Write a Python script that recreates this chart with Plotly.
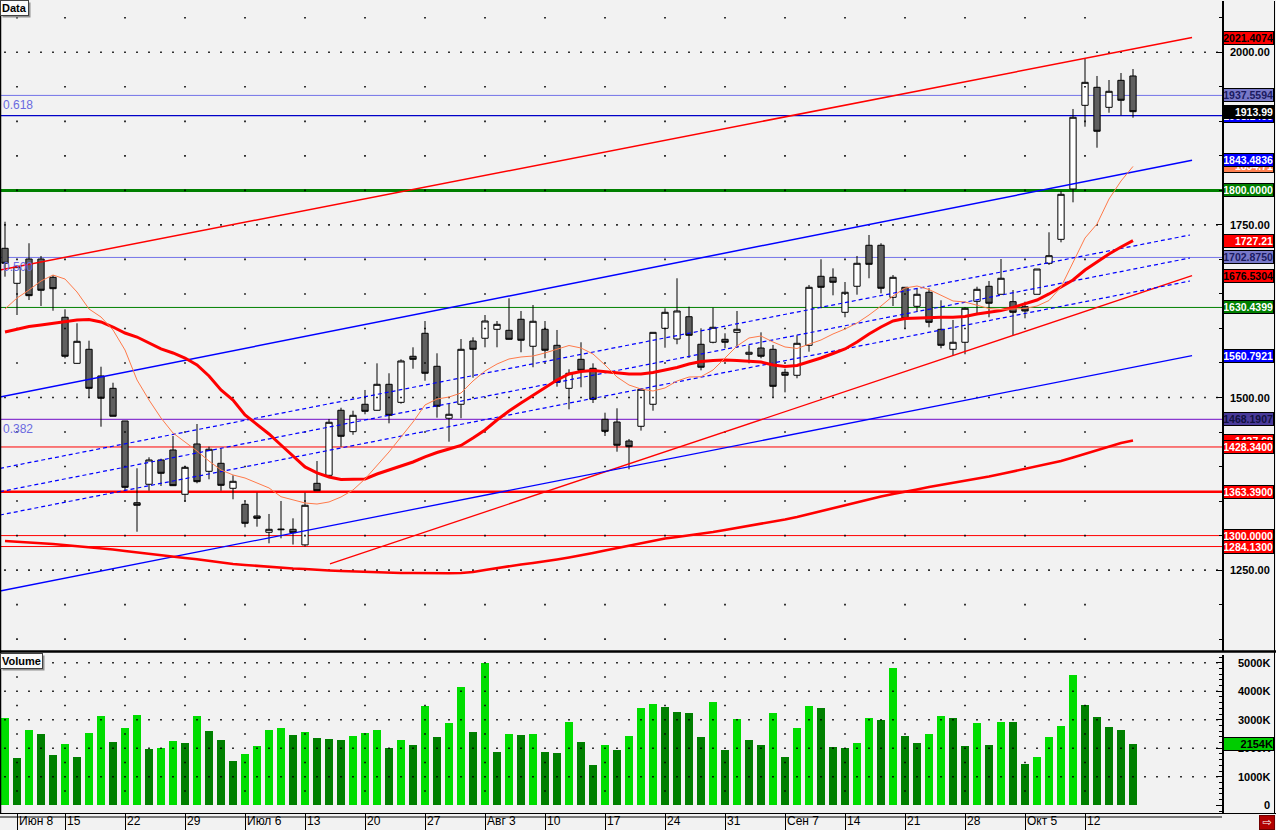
import plotly.graph_objects as go

# ---------------- data ----------------
tick_idx = [1, 5, 10, 15, 20, 25, 30, 35, 40, 45, 50, 55, 60, 65, 70, 75, 80, 85, 90]
tick_text = ["Июн 8", "15", "22", "29", "Июл 6", "13", "20", "27", "Авг 3", "10", "17",
             "24", "31", "Сен 7", "14", "21", "28", "Окт 5", "12"]

open_ = [1716.1, 1665.4, 1700.6, 1700.6, 1674.1, 1616.2, 1549.5, 1569.8, 1531.2, 1513.3,
         1466.0, 1347.6, 1374.3, 1409.5, 1424.0, 1359.8, 1432.7, 1393.1, 1404.7, 1368.5,
         1345.3, 1328.4, 1304.8, 1308.4, 1309.1, 1286.5, 1375.7, 1387.3, 1481.5, 1450.5,
         1490.2, 1481.5, 1519.1, 1493.0, 1559.7, 1593.0, 1545.2, 1469.9, 1490.2, 1581.8,
         1585.8, 1598.8, 1597.3, 1613.3, 1574.2, 1598.8, 1575.6, 1513.3, 1555.3, 1542.3,
         1468.4, 1464.5, 1437.0, 1458.3, 1490.2, 1600.2, 1584.7, 1617.0, 1577.1, 1580.0,
         1584.3, 1594.4, 1562.6, 1571.7, 1569.8, 1536.5, 1532.2, 1575.6, 1675.6, 1674.1,
         1623.4, 1661.1, 1720.5, 1720.5, 1645.1, 1659.6, 1632.1, 1652.4, 1598.8, 1569.8,
         1580.0, 1639.3, 1661.1, 1649.5, 1638.8, 1631.5, 1649.5, 1694.4, 1729.1, 1802.0,
         1923.2, 1949.3, 1920.3, 1959.4, 1965.7]
high = [1754.6, 1690.5, 1723.4, 1705.0, 1677.4, 1627.8, 1607.5, 1582.3, 1544.6, 1521.4,
        1466.0, 1397.5, 1413.4, 1411.4, 1444.2, 1399.8, 1461.6, 1428.8, 1426.4, 1387.3,
        1349.1, 1362.1, 1331.3, 1350.1, 1325.0, 1362.1, 1408.0, 1468.9, 1485.2, 1480.9,
        1510.9, 1549.5, 1535.1, 1555.3, 1572.7, 1610.8, 1564.0, 1491.6, 1584.7, 1587.2,
        1619.5, 1610.8, 1643.7, 1625.3, 1634.0, 1610.8, 1597.8, 1540.9, 1580.0, 1549.5,
        1478.0, 1484.4, 1439.9, 1513.0, 1594.4, 1629.2, 1672.7, 1631.5, 1600.2, 1630.1,
        1593.0, 1625.3, 1575.6, 1594.4, 1576.1, 1541.7, 1590.1, 1663.0, 1700.2, 1687.1,
        1667.3, 1705.0, 1735.4, 1723.4, 1677.4, 1659.6, 1658.2, 1658.2, 1640.8, 1612.3,
        1630.7, 1660.5, 1668.7, 1700.6, 1655.7, 1638.8, 1686.1, 1739.3, 1799.0, 1917.9,
        1990.3, 1965.7, 1959.9, 1970.0, 1975.8]
low = [1675.0, 1619.5, 1641.2, 1632.5, 1625.7, 1556.8, 1549.0, 1500.3, 1457.7, 1472.8,
       1365.0, 1305.6, 1365.0, 1371.8, 1372.0, 1349.1, 1375.7, 1381.5, 1365.0, 1352.6,
       1312.0, 1312.9, 1288.8, 1296.0, 1287.0, 1284.13, 1365.0, 1387.0, 1428.8, 1446.0,
       1475.7, 1481.0, 1462.6, 1491.0, 1541.7, 1524.3, 1470.8, 1436.0, 1469.9, 1528.7,
       1572.7, 1572.7, 1584.0, 1565.5, 1543.8, 1556.8, 1515.7, 1482.9, 1514.8, 1492.0,
       1444.2, 1421.5, 1396.0, 1452.0, 1480.9, 1572.1, 1577.1, 1557.2, 1539.4, 1578.5,
       1571.3, 1572.1, 1549.5, 1556.8, 1500.3, 1507.5, 1527.8, 1566.4, 1629.2, 1648.0,
       1616.2, 1648.9, 1672.7, 1650.9, 1632.5, 1600.2, 1623.8, 1601.7, 1571.3, 1560.1,
       1562.6, 1620.5, 1616.2, 1649.5, 1589.5, 1614.7, 1649.5, 1692.0, 1724.8, 1782.7,
       1892.2, 1861.8, 1912.5, 1908.8, 1905.3]
close = [1694.4, 1689.5, 1647.5, 1655.3, 1657.6, 1559.7, 1581.4, 1513.3, 1498.9, 1472.8,
         1369.9, 1343.9, 1409.5, 1390.2, 1372.3, 1398.9, 1378.1, 1425.0, 1372.8, 1378.6,
         1317.8, 1325.0, 1309.1, 1309.2, 1304.2, 1343.9, 1365.0, 1464.1, 1443.8, 1474.2,
         1480.0, 1519.1, 1474.2, 1552.9, 1555.3, 1535.1, 1487.3, 1475.7, 1569.8, 1569.8,
         1610.8, 1606.0, 1584.3, 1582.9, 1610.4, 1568.4, 1522.0, 1535.1, 1539.4, 1497.4,
         1451.0, 1430.8, 1428.8, 1511.9, 1594.4, 1623.4, 1625.3, 1590.1, 1543.8, 1601.7,
         1580.0, 1598.8, 1565.5, 1559.7, 1516.2, 1532.2, 1578.5, 1659.6, 1659.6, 1666.9,
         1652.4, 1694.4, 1692.9, 1658.2, 1674.1, 1614.1, 1649.5, 1608.9, 1575.6, 1580.0,
         1629.2, 1656.7, 1636.5, 1672.7, 1623.4, 1625.3, 1686.1, 1705.4, 1794.3, 1905.9,
         1956.5, 1885.6, 1943.5, 1930.5, 1913.99]

volume_k = [3061, 1658, 2640, 2500, 1764, 2149, 1693, 2535, 3131, 2219,
            2710, 3166, 1974, 2019, 2254, 2184, 3131, 2605, 2289, 1553,
            1799, 2079, 2640, 2710, 2465, 2570, 2360, 2330, 2289, 2430,
            2535, 2640, 2009, 2289, 2114, 3480, 2395, 2886, 4148, 2570,
            4994, 1869, 2500, 2465, 2500, 1869, 1840, 2921, 2219, 1413,
            2114, 1939, 2430, 3411, 3551, 3446, 3271, 3236, 2395, 3622,
            1939, 3026, 2289, 2114, 3236, 1693, 2710, 3481, 3411, 2044,
            2009, 2184, 3061, 2991, 4812, 2430, 2184, 2500, 3131, 3061,
            2079, 2886, 2114, 2921, 2921, 1448, 1693, 2395, 2780, 4568,
            3516, 3096, 2745, 2640, 2154]

sma10 = [1628.2, 1644.1, 1655.7, 1668.7, 1677.4, 1671.6, 1652.8, 1628.2, 1616.6, 1597.8,
         1568.8, 1525.4, 1496.4, 1470.3, 1448.6, 1435.5, 1422.5, 1408.0, 1395.0, 1387.8,
         1383.4, 1376.2, 1369.0, 1356.3, 1351.6, 1347.2, 1345.7, 1348.7, 1355.9, 1366.0,
         1382.0, 1400.8, 1421.1, 1442.8, 1464.5, 1489.2, 1497.8, 1500.7, 1506.5, 1523.9,
         1538.4, 1548.5, 1555.8, 1558.7, 1560.1, 1564.5, 1570.3, 1575.3, 1571.7, 1563.0,
         1547.1, 1529.7, 1518.1, 1512.3, 1509.4, 1513.8, 1523.9, 1529.7, 1530.1, 1539.8,
         1557.2, 1574.6, 1586.2, 1589.1, 1580.4, 1573.2, 1571.0, 1577.5, 1583.3, 1592.0,
         1599.2, 1607.9, 1619.5, 1632.5, 1647.0, 1658.6, 1661.5, 1656.4, 1648.5, 1639.8,
         1638.3, 1634.0, 1628.9, 1627.5, 1627.8, 1628.9, 1632.5, 1640.5, 1660.1, 1696.3,
         1731.0, 1751.3, 1787.5, 1813.6, 1834.71]

sma20 = [1594.9, 1599.2, 1602.9, 1605.0, 1607.2, 1609.4, 1612.3, 1613.0, 1609.4, 1602.1,
         1593.4, 1587.6, 1578.9, 1570.3, 1564.5, 1557.2, 1547.1, 1531.2, 1510.9, 1496.4,
         1474.7, 1461.6, 1447.2, 1431.2, 1415.3, 1399.4, 1390.7, 1384.9, 1381.2, 1381.2,
         1382.0, 1389.2, 1395.0, 1400.8, 1406.6, 1413.9, 1420.3, 1425.4, 1430.5, 1441.4,
         1452.9, 1467.4, 1480.5, 1492.1, 1503.6, 1515.2, 1525.4, 1534.1, 1537.7, 1539.1,
         1537.7, 1535.5, 1534.1, 1534.1, 1536.2, 1539.8, 1543.5, 1548.5, 1552.2, 1553.6,
         1554.3, 1553.6, 1552.9, 1551.4, 1547.1, 1544.9, 1546.4, 1551.4, 1557.2, 1563.7,
         1570.3, 1580.4, 1592.0, 1602.1, 1610.8, 1614.4, 1615.2, 1615.9, 1616.2, 1616.2,
         1617.3, 1621.0, 1623.1, 1626.0, 1630.4, 1635.4, 1641.2, 1650.0, 1660.1, 1670.2,
         1684.7, 1696.3, 1707.9, 1718.0, 1727.21]

sma_long = [1292.2, 1290.7, 1290.0, 1288.8, 1287.8, 1286.4, 1284.9, 1283.5, 1281.6, 1279.8,
            1277.7, 1275.5, 1273.3, 1271.2, 1269.0, 1267.5, 1265.7, 1263.2, 1261.0, 1258.9,
            1257.4, 1256.0, 1254.5, 1253.8, 1252.3, 1251.6, 1250.2, 1249.4, 1248.7, 1248.0,
            1247.3, 1246.5, 1245.8, 1245.8, 1245.8, 1245.4, 1245.4, 1245.4, 1245.8, 1247.3,
            1250.2, 1253.1, 1256.0, 1258.1, 1260.3, 1262.5, 1265.4, 1268.3, 1271.2, 1274.8,
            1278.4, 1282.0, 1284.9, 1289.3, 1292.9, 1295.8, 1297.9, 1300.1, 1303.0, 1305.2,
            1308.1, 1311.0, 1313.9, 1316.8, 1319.7, 1323.3, 1326.9, 1331.3, 1335.6, 1339.9,
            1344.3, 1348.7, 1353.0, 1356.6, 1360.2, 1363.1, 1366.8, 1370.4, 1373.3, 1376.9,
            1379.8, 1382.7, 1385.6, 1389.2, 1392.8, 1396.5, 1400.1, 1403.7, 1408.0, 1413.1,
            1418.1, 1424.0, 1429.0, 1434.1, 1437.68]

# trend lines: (x0 index, price0, x1 index, price1)
red_upper = [-0.4167, 1684.7, 98.92, 2021.4074]
red_lower = [27.08, 1259.1, 98.92, 1676.5304]
blue_upper = [-0.4167, 1500.7, 98.92, 1843.4836]
blue_lower = [-0.4167, 1219.7, 98.92, 1560.7921]
chan_top = [-0.4167, 1397.4, 98.75, 1735.4]
chan_mid = [-0.4167, 1363.6, 98.75, 1702.05]
chan_bot = [-0.4167, 1329.8, 98.75, 1668.7]

# horizontal levels: value, colour, width
h_levels = [(1937.5594, "#7474e8", 1), (1908.1495, "#0000c8", 1.2), (1800.0, "#008000", 3),
            (1702.875, "#7474e8", 1), (1630.4399, "#008000", 1), (1468.1907, "#8a3ad0", 1.2),
            (1428.34, "#ff0000", 1), (1363.39, "#ff0000", 2.5), (1300.0, "#ff0000", 1),
            (1284.13, "#ff0000", 1)]
fib_labels = [(1937.5594, "0.618"), (1702.875, "0.500"), (1468.1907, "0.382")]

price_axis_vals = [1250, 1500, 1750, 2000]
vol_axis_vals = [0, 1000, 2000, 3000, 4000, 5000]

# right-hand value boxes: value, text, background, text colour (later ones on top)
price_boxes = [(2021.4074, "2021.4074", "#ff0000", "#000000"),
               (1937.5594, "1937.5594", "#7878c8", "#1a1a60"),
               (1908.1495, "1908.1495", "#0000ff", "#ffffff"),
               (1913.99, "1913.99", "#000000", "#ffffff"),
               (1834.71, "1834.71", "#ff8050", "#ffffff"),
               (1843.4836, "1843.4836", "#0000ff", "#ffffff"),
               (1800.0, "1800.0000", "#008000", "#ffffff"),
               (1727.21, "1727.21", "#ff0000", "#ffffff"),
               (1702.875, "1702.8750", "#7878c8", "#1a1a60"),
               (1676.5304, "1676.5304", "#ff0000", "#000000"),
               (1630.4399, "1630.4399", "#008000", "#ffffff"),
               (1560.7921, "1560.7921", "#0000ff", "#ffffff"),
               (1468.1907, "1468.1907", "#4a3a9a", "#101040"),
               (1437.68, "1437.68", "#ff0000", "#ffffff"),
               (1428.34, "1428.3400", "#ff0000", "#ffffff"),
               (1363.39, "1363.3900", "#ff0000", "#ffffff"),
               (1300.0, "1300.0000", "#ff0000", "#ffffff"),
               (1284.13, "1284.1300", "#ff0000", "#ffffff")]

# ---------------- layout geometry ----------------
W, H = 1276, 830
ML, MR, MT, MB = 0, 54, 1, 17
PW = W - ML - MR
PH = H - MT - MB
BAR_PX = 12.0
X0 = -5.0 / BAR_PX
X1 = X0 + PW / BAR_PX


def ypaper(py):
    return (MT + PH - py) / PH


price_dom = [ypaper(651), 1.0]
vol_dom = [0.0, ypaper(655)]
PX_PER_UNIT = 0.6904
price_top = 2000 + (52.3 - MT) / PX_PER_UNIT
price_bot = price_top - (651 - MT) / PX_PER_UNIT
VOL_PX = 28.52 / 1000.0
vol_top = (805.3 - 655) / VOL_PX
vol_bot = (805.3 - 813) / VOL_PX

N = len(close)
xs = list(range(N))
FONT = "Liberation Sans, Arial, sans-serif"

fig = go.Figure()

# dotted grid (price panel)
gx, gy = [], []
for lv in range(1150, 2101, 50):
    if lv in price_axis_vals:
        for k in range(0, int(X1) + 1):
            gx.append(k); gy.append(lv)
    else:
        for t in tick_idx:
            gx.append(t); gy.append(lv)
fig.add_trace(go.Scatter(x=gx, y=gy, mode="markers", hoverinfo="skip", showlegend=False,
                         marker=dict(size=1.6, color="#000000", symbol="square", line=dict(width=0)),
                         xaxis="x", yaxis="y"))
# dotted grid (volume panel)
vx, vy = [], []
for lv in vol_axis_vals[1:]:
    for k in range(0, int(X1) + 1):
        vx.append(k); vy.append(lv)
for t in tick_idx:
    for lv in range(500, 5001, 500):
        if lv % 1000:
            vx.append(t); vy.append(lv)
fig.add_trace(go.Scatter(x=vx, y=vy, mode="markers", hoverinfo="skip", showlegend=False,
                         marker=dict(size=1.6, color="#000000", symbol="square", line=dict(width=0)),
                         xaxis="x2", yaxis="y2"))

# candles
fig.add_trace(go.Candlestick(x=xs, open=open_, high=high, low=low, close=close,
                             increasing=dict(fillcolor="#ffffff", line=dict(color="#000000", width=1)),
                             decreasing=dict(fillcolor="#606060", line=dict(color="#000000", width=1)),
                             whiskerwidth=0, showlegend=False, xaxis="x", yaxis="y"))


def tline(seg, color, width, dash="solid"):
    fig.add_trace(go.Scatter(x=[seg[0], seg[2]], y=[seg[1], seg[3]], mode="lines",
                             line=dict(color=color, width=width, dash=dash),
                             hoverinfo="skip", showlegend=False, xaxis="x", yaxis="y"))


tline(red_upper, "#ff0000", 1.5)
tline(red_lower, "#ff0000", 1.3)
tline(blue_upper, "#0000ff", 1.5)
tline(blue_lower, "#0000ff", 1.3)
for seg in (chan_top, chan_mid, chan_bot):
    tline(seg, "#0000ff", 1.2, "4px,3px")

fig.add_trace(go.Scatter(x=xs, y=sma_long, mode="lines", line=dict(color="#ff0000", width=2.6),
                         hoverinfo="skip", showlegend=False, xaxis="x", yaxis="y"))
fig.add_trace(go.Scatter(x=xs, y=sma20, mode="lines", line=dict(color="#ff0000", width=3),
                         hoverinfo="skip", showlegend=False, xaxis="x", yaxis="y"))
fig.add_trace(go.Scatter(x=xs, y=sma10, mode="lines", line=dict(color="#ff7a4a", width=1),
                         hoverinfo="skip", showlegend=False, xaxis="x", yaxis="y"))

# volume bars: bright when above previous bar
vcol = []
for i, v in enumerate(volume_k):
    vcol.append("#00dd00" if i == 0 or v > volume_k[i - 1] else "#008000")
fig.add_trace(go.Bar(x=xs, y=volume_k, marker=dict(color=vcol, line=dict(width=0)), width=0.6,
                     showlegend=False, hoverinfo="skip", xaxis="x2", yaxis="y2"))

shapes = []
for val, col, w in h_levels:
    shapes.append(dict(type="line", xref="paper", yref="y", x0=0, x1=1, y0=val, y1=val,
                       line=dict(color=col, width=w), layer="below"))
XR = W / PW
# panel separators / frame
shapes.append(dict(type="line", xref="paper", yref="paper", x0=0, x1=XR, y0=ypaper(651.5), y1=ypaper(651.5),
                   line=dict(color="#000000", width=2.5)))
shapes.append(dict(type="line", xref="paper", yref="paper", x0=0, x1=1, y0=ypaper(817), y1=ypaper(817),
                   line=dict(color="#000000", width=1)))
shapes.append(dict(type="line", xref="paper", yref="paper", x0=1, x1=XR, y0=ypaper(813.5), y1=ypaper(813.5),
                   line=dict(color="#000000", width=1)))
shapes.append(dict(type="line", xref="paper", yref="paper", x0=0.5 / PW, x1=0.5 / PW, y0=0, y1=1,
                   line=dict(color="#000000", width=1.5)))
shapes.append(dict(type="line", xref="paper", yref="paper", x0=(W - 1.5) / PW, x1=(W - 1.5) / PW,
                   y0=ypaper(813.5), y1=1, line=dict(color="#000000", width=1)))

ann = []
# price axis labels
for v in price_axis_vals:
    ann.append(dict(x=(W - 4) / PW, xref="paper", y=v, yref="y", xanchor="right", yanchor="middle",
                    text="<b>%.2f</b>" % v, showarrow=False, font=dict(family=FONT, size=11, color="#000")))
for v in vol_axis_vals:
    ann.append(dict(x=(W - 4) / PW, xref="paper", y=v, yref="y2", xanchor="right", yanchor="middle",
                    text="<b>%s</b>" % ("%dK" % v if v else "0"), showarrow=False,
                    font=dict(family=FONT, size=11, color="#000")))
# value boxes
for val, txt, bg, fg in price_boxes:
    ann.append(dict(x=1, xref="paper", y=val, yref="y", xanchor="left", yanchor="middle", xshift=1,
                    text="<b>%s</b>" % txt, showarrow=False, bgcolor=bg, bordercolor="#000000",
                    borderwidth=1, borderpad=0, width=49, height=12, align="right",
                    font=dict(family=FONT, size=10.5, color=fg)))
ann.append(dict(x=1, xref="paper", y=volume_k[-1], yref="y2", xanchor="left", yanchor="middle", xshift=1,
                text="<b>%dK</b>" % volume_k[-1], showarrow=False, bgcolor="#00cc00", bordercolor="#000000",
                borderwidth=1, borderpad=0, width=49, height=12, align="right",
                font=dict(family=FONT, size=11, color="#000")))
# fib labels
for val, txt in fib_labels:
    ann.append(dict(x=0, xref="paper", y=val, yref="y", xanchor="left", yanchor="top", xshift=1, yshift=-1,
                    text=txt, showarrow=False, font=dict(family=FONT, size=12, color="#6a6ae0")))
# x labels
for t, s in zip(tick_idx, tick_text):
    ann.append(dict(x=t, xref="x2", y=ypaper(830), yref="paper", xanchor="left", yanchor="bottom",
                    xshift=0, text=s, showarrow=False, font=dict(family=FONT, size=12, color="#000")))
# panel titles
for ttl, ytop in (("Data", 0), ("Volume", 653)):
    ann.append(dict(x=0, xref="paper", y=ypaper(ytop + 2), yref="paper", xanchor="left", yanchor="top",
                    xshift=2, text="<b>%s</b>" % ttl, showarrow=False, bgcolor="#909090",
                    borderpad=1, font=dict(family=FONT, size=11, color="#909090")))
    ann.append(dict(x=0, xref="paper", y=ypaper(ytop), yref="paper", xanchor="left", yanchor="top",
                    xshift=0, text="<b>%s</b>" % ttl, showarrow=False, bgcolor="#fafafa",
                    bordercolor="#404040", borderwidth=1, borderpad=1,
                    font=dict(family=FONT, size=11, color="#000")))
ann.append(dict(x=(W - 9) / PW, xref="paper", y=ypaper(822), yref="paper", xanchor="center", yanchor="middle",
                text="⇨", showarrow=False, bgcolor="#b00000", bordercolor="#700000", borderwidth=1,
                borderpad=0, width=14, height=13, font=dict(family="DejaVu Sans", size=11, color="#ffffff")))

fig.update_layout(
    width=W, height=H, margin=dict(l=ML, r=MR, t=MT, b=MB, autoexpand=False),
    paper_bgcolor="#f2f2f2", plot_bgcolor="#f2f2f2",
    showlegend=False, bargap=0, boxgap=0.25,
    xaxis=dict(domain=[0, 1], range=[X0, X1], anchor="y", showticklabels=False, showgrid=False,
               zeroline=False, ticks="", rangeslider=dict(visible=False), fixedrange=True,
               automargin=False),
    xaxis2=dict(domain=[0, 1], range=[X0, X1], anchor="y2", matches="x", showticklabels=False,
                showgrid=False, zeroline=False, ticks="outside", tickmode="array", tickvals=tick_idx,
                ticklen=17, tickcolor="#000000", tickwidth=1, showline=True, linecolor="#000000",
                linewidth=1, automargin=False),
    yaxis=dict(domain=price_dom, range=[price_bot, price_top], side="right", showgrid=False,
               zeroline=False, showticklabels=False, ticks="inside", tickmode="array",
               tickvals=price_axis_vals, ticklen=6, tickcolor="#000", showline=True,
               linecolor="#000000", linewidth=1.5, automargin=False,
               minor=dict(ticks="inside", tickmode="linear", tick0=0, dtick=50, ticklen=3,
                          tickcolor="#000", showgrid=False)),
    yaxis2=dict(domain=vol_dom, range=[vol_bot, vol_top], side="right", showgrid=False,
                zeroline=False, showticklabels=False, ticks="inside", tickmode="array",
                tickvals=vol_axis_vals, ticklen=6, tickcolor="#000", showline=True,
                linecolor="#000000", linewidth=1.5, automargin=False,
                minor=dict(ticks="inside", tickmode="linear", tick0=0, dtick=200, ticklen=3,
                           tickcolor="#000", showgrid=False)),
    shapes=shapes, annotations=ann,
)

fig.write_html("out.html", config={"displayModeBar": False},
               post_script="document.body.style.margin='0px';document.body.style.background='#f2f2f2';")
